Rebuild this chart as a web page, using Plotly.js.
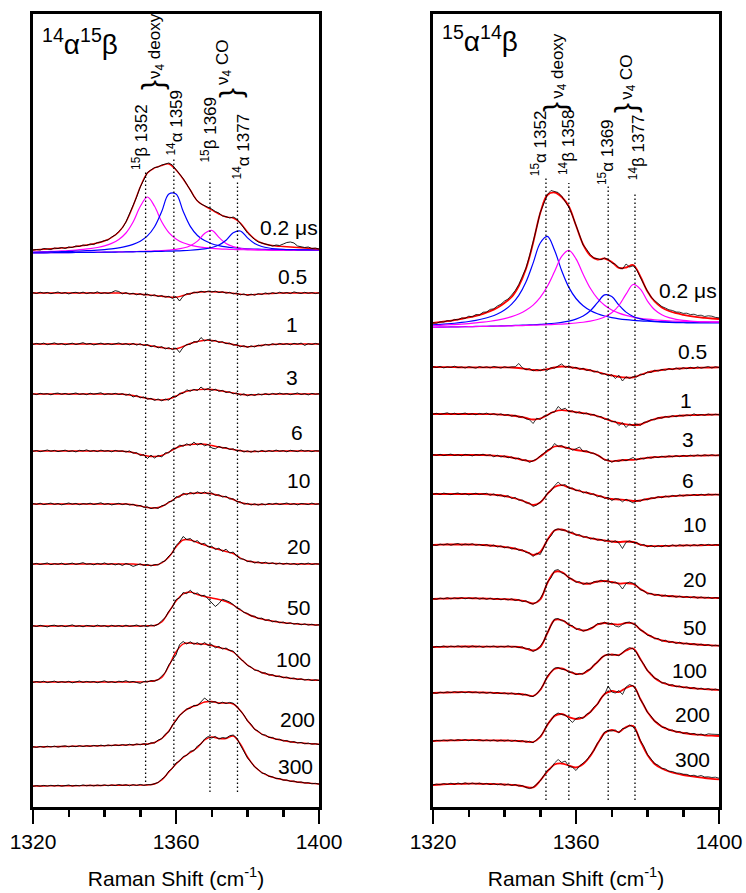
<!DOCTYPE html>
<html><head><meta charset="utf-8">
<script src="https://cdn.plot.ly/plotly-3.0.1.min.js"></script>
<style>html,body{margin:0;padding:0;background:#fff}#chart{width:746px;height:893px}</style>
</head><body><div id="chart"></div><script>
// ---------- sampling grids (Raman shift, cm^-1) ----------
const xFine = [1320,1321,1322,1323,1324,1325,1326,1327,1328,1329,1330,1331,1332,1333,1334,1335,1336,1337,1338,1339,1340,1341,1342,1343,1344,1345,1346,1347,1348,1349,1350,1351,1352,1353,1354,1355,1356,1357,1358,1359,1360,1361,1362,1363,1364,1365,1366,1367,1368,1369,1370,1371,1372,1373,1374,1375,1376,1377,1378,1379,1380,1381,1382,1383,1384,1385,1386,1387,1388,1389,1390,1391,1392,1393,1394,1395,1396,1397,1398,1399,1400];
const xCoarse = [1320,1322,1324,1326,1328,1330,1332,1334,1336,1338,1340,1342,1344,1346,1348,1350,1352,1354,1356,1358,1360,1362,1364,1366,1368,1370,1372,1374,1376,1378,1380,1382,1384,1386,1388,1390,1392,1394,1396,1398,1400];
const tickVals = [1320,1360,1400];
const tickLabels = ['1320','1360','1400'];
const minorTickVals = [1330,1340,1350,1370,1380,1390];
const delayLabels = ['0.2 μs','0.5','1','3','6','10','20','50','100','200','300'];
const leftPeaks = [1351.5,1359.4,1369.5,1377.2];
const rightPeaks = [1351.6,1358.0,1369.0,1376.5];

// ---------- left panel 14α15β : raw spectra (1 cm^-1) ----------
const l02Raw = [0,0.5,0,1.5,1,0.5,2,1.5,2.5,1.5,3,2.5,4,3.5,5,4.5,6,5.5,7.5,8,9.5,10,13,15,18.5,22,28,36,44.5,53,63,71,77.5,80,82.5,83,85,86,87,85,81,76,71.5,66,60,53.5,49,46,44.5,43,41,38.5,37,34,33.5,32,33,31,27,22,17,13.5,10.5,8,7,5.5,5,4,5,4.5,6,7.5,8,7,4,3.5,2.5,3,1.5,2,1];
const l05Raw = [0.3,-0.5,0.8,-0.2,0.6,-0.7,0.2,1.0,-0.4,0.5,-0.9,0.3,0.7,-0.3,0.9,-0.6,0.4,-0.2,1.2,-0.5,0.3,-0.4,0.6,2.3,1.5,-0.8,0.4,-1.2,-0.2,-1.8,-0.6,-2.2,-1.1,-2.9,-1.8,-3.6,-2.5,-4.2,-3.3,-5.5,-3.5,-8,-3.2,-0.6,-1.2,0.9,0.2,1.8,0.7,2.0,1.0,1.9,0.4,1.3,-0.2,0.7,-0.9,0,-1.9,-0.9,-2.5,-1.1,-2.2,-0.6,-1.5,0.1,-1.0,0.4,-0.7,0.8,-0.3,0.5,-0.6,1.1,0.2,-0.5,0.7,-0.3,0.4,-0.6,0.2];
const l1Raw = [-0.4,0.6,-0.2,0.9,-0.7,0.3,1.1,-0.3,0.5,-0.8,0.2,0.8,-0.5,0.4,1.3,-0.2,0.6,-0.9,0.3,0.9,-0.4,0.5,-0.6,0.2,1.0,-0.5,0.4,-0.9,0.6,-1.1,0.3,-1.6,-0.5,-2.8,-1.6,-3.9,-2.6,-4.9,-3.7,-5.6,-4.0,-8.5,-3.3,-0.4,-0.3,2.4,1.8,6.5,3.0,4.6,2.8,3.7,1.5,2.4,0.3,1.0,-1.2,-0.5,-2.8,-1.7,-3.4,-1.8,-3.0,-1.1,-2.0,-0.3,-1.3,0.3,-0.9,0.6,-0.5,0.4,-0.8,0.7,-0.2,0.9,-1.4,0.3,-0.5,0.6,-0.3];
const l3Raw = [0.2,-0.6,0.7,-0.1,0.4,-0.8,0.5,0.9,-0.3,0.6,-0.5,0.2,1.0,-0.4,0.3,-0.7,0.8,-0.2,0.5,1.2,-0.6,0.3,-0.3,0.7,-0.5,0.4,-1.2,-0.1,-3.0,-1.4,-3.8,-3.0,-5.2,-4.3,-6.4,-5.0,-6.8,-5.1,-6.2,-2.6,-3.0,0.8,0.6,4.2,2.8,4.6,3.5,7.0,4.0,5.5,3.6,4.8,2.7,3.6,1.5,2.3,0.2,1.0,-1.2,0.2,-1.8,-0.3,-1.5,0.2,-1.0,0.5,-0.8,0.6,-0.4,0.9,-0.2,0.5,-0.7,0.3,1.0,-0.5,0.4,-0.9,0.6,-0.2,0.3];
const l6Raw = [-0.3,0.5,-0.7,0.4,1.0,-0.2,0.6,-0.6,0.3,0.8,-0.5,0.2,-0.9,0.7,0.1,1.1,-0.4,0.5,-0.6,0.9,-0.2,0.4,-0.8,0.6,-0.3,0.2,-1.0,0.1,-2.2,-1.6,-4.5,-3.6,-7.5,-4.2,-7.0,-4.4,-6.0,-1.8,-1.9,2.2,2.4,6.0,4.8,7.2,5.5,8.8,6.0,7.8,5.2,6.6,3.0,2.2,4.6,3.0,3.5,1.5,2.2,0.2,0.9,-1.0,0.2,-1.2,0.3,-0.9,0.6,-0.7,0.5,-0.5,0.9,-0.3,0.4,-0.8,0.7,0.1,-0.6,1.0,-0.2,0.5,-0.7,0.3,0];
const l10Raw = [0.4,-0.3,0.8,-0.6,0.2,0.9,-0.4,0.5,-0.8,0.3,1.0,-0.2,0.6,-0.7,0.4,-0.1,0.8,-0.5,0.3,1.2,-0.4,0.5,-0.9,0.2,0.7,-0.6,0.3,-1.0,-0.2,-2.0,-1.4,-3.4,-2.9,-4.6,-3.6,-4.4,-1.8,-1.0,2.3,3.0,7.2,6.8,10.8,9.2,11.6,10.0,12.2,10.3,12.0,10.0,11.3,8.6,9.3,7.0,7.8,5.0,5.2,2.3,2.2,-0.2,0.7,-1.0,0.2,-1.2,0.3,-0.9,0.6,-0.4,0.8,-0.6,0.2,1.0,-0.5,0.4,-0.9,0.5,0.1,-0.6,0.9,-0.3,0.2];
const l20Raw = [-0.2,0.6,-0.5,0.3,1.0,-0.7,0.4,-0.3,0.8,-0.6,0.2,0.9,-0.4,0.5,1.3,-0.2,0.3,-0.8,0.6,-0.3,1.1,-0.5,0.4,-0.9,0.2,-1.5,0.5,-0.6,-2.4,-1.2,0.2,-1.5,-0.4,-2.0,-0.5,-1.0,1.8,3.2,8.0,11.0,18.5,22.0,27.5,24.5,25.5,22.0,23.4,19.5,20.8,17.0,17.8,14.5,15.8,12.6,14.8,11.0,12.0,8.0,5.2,4.8,2.4,3.0,1.0,2.2,0.6,1.8,0.2,1.3,-0.2,1.0,-0.3,0.8,-0.4,0.5,-0.8,0.6,-0.2,0.9,-0.5,0.3,-0.1];
const l50Raw = [0.3,-0.5,0.7,-0.2,-0.9,0.4,0.8,-0.3,0.5,-0.7,0.2,1.1,-0.4,0.3,-0.8,0.6,0.1,-0.6,0.9,-0.2,0.4,-0.9,0.7,-0.3,0.5,-0.6,0.8,-0.4,0.2,1.0,-0.5,0.4,-0.6,1.0,0.1,1.8,5.2,8.5,14.8,19.0,26.4,28.0,33.5,32.4,35.8,32.0,33.0,30.0,30.8,27.0,24.0,19.5,22.5,26.8,25.5,24.0,21.5,18.0,16.8,13.5,12.6,10.0,9.8,7.4,7.9,5.6,6.3,4.2,5.0,3.2,4.0,2.4,3.3,1.8,2.6,1.2,2.2,0.9,1.8,0.7,1.3];
const l100Raw = [-0.4,0.5,-0.2,0.8,-0.6,0.3,0.9,-0.5,0.4,-0.3,0.7,-0.8,0.2,1.0,-0.4,0.6,-0.1,0.5,-0.7,0.3,1.2,-0.3,0.4,-0.6,0.8,0.2,1.3,-0.2,0.6,-0.5,-1.4,0.5,0.1,1.4,0.8,2.4,5.6,9.5,17.2,22.0,27.0,37.5,40.5,38.0,40.2,37.8,39.3,37.0,39.5,36.5,37.5,34.2,35.6,33.0,34.0,31.5,31.0,27.0,23.0,20.5,16.4,15.0,11.8,11.6,9.0,9.2,6.8,7.4,5.4,6.0,4.2,5.0,3.3,4.0,2.4,3.2,1.9,2.7,1.5,2.3,1.5];
const l200Raw = [0.3,-0.4,0.6,-0.3,0.8,0,0.9,-0.2,0.7,1.2,0.1,1.0,0.3,1.4,0.5,1.3,0.6,1.6,0.8,1.9,1.0,2.0,1.2,2.2,1.4,2.5,1.6,2.8,1.8,3.1,2.2,3.4,2.5,4.2,4.0,7.0,8.2,12.8,15.2,22.0,26.0,31.8,34.5,38.0,38.8,41.6,41.5,45.5,49.0,46.0,44.8,45.4,43.2,44.8,43.5,44.6,43.8,40.5,35.8,32.0,25.8,22.8,17.5,16.0,12.4,12.0,9.5,9.6,7.5,7.8,6.0,6.5,4.8,5.4,4.0,4.6,3.2,3.9,2.8,3.3,2.5];
const l300Raw = [-0.3,0.4,-0.2,0.6,-0.1,0.7,0,0.8,-0.2,0.6,1.0,-0.1,0.7,0.1,1.1,0.2,0.9,0.1,1.0,0.3,1.2,0.2,1.1,0.4,1.5,0.6,1.3,0.2,1.4,0.5,1.6,0.6,1.4,1.2,2.6,3.5,6.8,9.5,15.0,17.5,23.0,24.8,29.5,30.5,34.8,35.2,40.0,42.0,47.0,49.5,48.0,49.6,47.0,48.5,47.8,50.2,51.0,48.0,41.0,34.0,28.0,23.8,19.0,16.5,13.0,12.2,9.6,9.2,7.4,7.5,5.8,6.0,4.6,5.0,3.6,4.1,2.9,3.3,2.2,2.7,1.9];

// ---------- left panel : fits (2 cm^-1) ----------
const l02Fit = [0,0.5,1,1.5,2,2.5,3.5,4.5,5.5,7,9,12.5,18,28,44,63,77,82,84.5,86,80,71,60,49,44,40,36,33,32,27,18,11,7,5,4,3.5,3,2.5,2,1.5,1];
const l05Fit = [0,0,0,0,0,0,0,0,0,0,0,0,0,-0.3,-0.8,-1.2,-1.8,-2.5,-3.2,-4,-4.2,-2.5,-0.5,0.8,1.3,1.3,1,0.5,-0.3,-1.2,-1.8,-1.5,-1,-0.5,-0.2,0,0,0,0,0,0];
const l1Fit = [0,0,0,0,0,0,0,0,0,0,0,0,0,0,0,-0.5,-1.2,-2.5,-3.5,-4.5,-4.8,-2.5,0.5,2.5,3.8,3.5,2.3,1,-0.5,-2,-2.8,-2.3,-1.3,-0.6,-0.2,0,0,0,0,0,0];
const l3Fit = [0,0,0,0,0,0,0,0,0,0,0,0,0,-0.5,-1.5,-3,-4.5,-5.5,-6,-5,-2,1.5,3.5,4.3,4.8,4.5,3.5,2.3,1,-0.3,-1,-0.8,-0.4,-0.2,0,0,0,0,0,0,0];
const l6Fit = [0,0,0,0,0,0,0,0,0,0,0,0,0,-0.5,-1.5,-3.5,-5,-5.5,-4.5,-1,3,5.5,6.5,7,6.8,5.5,4,2.8,1.5,0.2,-0.5,-0.5,-0.3,-0.1,0,0,0,0,0,0,0];
const l10Fit = [0,0,0,0,0,0,0,0,0,0,0,0,0,0,-0.8,-2,-3.5,-4,-2.5,1.5,6,9.5,10.5,11,11,10.3,8.5,6.8,4.5,1.5,0,-0.5,-0.5,-0.2,0,0,0,0,0,0,0];
const l20Fit = [0,0,0,0,0,0,0,0,0,0,0,0,0,0,0,-0.5,-1.2,-1.2,1,7,17,24,24,21.5,19,16.5,14.5,12.5,10.5,6,3,1.8,1.2,0.8,0.5,0.3,0.1,0,0,0,0];
const l50Fit = [0,0,0,0,0,0,0,0,0,0,0,0,0,0,0,0,0.2,0.5,4,14,25,32,34,31.5,29.5,28,26.5,24.5,21,16,12,9,7,5.5,4.3,3.3,2.6,2,1.6,1.3,1];
const l100Fit = [0,0,0,0,0,0,0,0,0,0,0,0,0,0,0,0,0.5,1.2,4.5,16,30,38,39,38,38,36.5,34.5,33,30,23.5,17,12.5,9.5,7.5,6,4.8,3.8,3,2.4,2,1.7];
const l200Fit = [0,0.1,0.3,0.4,0.5,0.6,0.8,0.9,1,1.2,1.4,1.6,1.8,2,2.3,2.6,3,4.5,8.5,16,27,35,39.5,42,45,45.5,44,44,43,36.5,26.5,18,13,10,8,6.5,5.3,4.4,3.7,3.2,2.7];
const l300Fit = [0,0,0.1,0.2,0.2,0.3,0.3,0.4,0.5,0.5,0.6,0.7,0.8,0.8,0.9,0.9,1,2,6,14,22,28.5,33.5,38.5,46,49,47.5,47.5,50,42,29,19.5,13.5,10,7.8,6.2,5,4,3.2,2.6,2];

// ---------- left panel : band components of the 0.2 μs spectrum ----------
const l15b1352 = [-1.98,-1.78,-1.55,-1.28,-0.96,-0.57,-0.1,0.54,1.37,2.51,4.1,6.6,10.55,17.0,28.0,43.5,53.0,43.7,28.2,17.4,11.05,7.2,4.9,3.4,2.37,1.66,1.16,0.81,0.54,0.34,0.2,0.1,0.02,-0.04,-0.08,-0.09,-0.09,-0.09,-0.08,-0.06,-0.04];
const l14a1359 = [-2.3,-2.16,-2.0,-1.84,-1.65,-1.44,-1.19,-0.88,-0.53,-0.09,0.47,1.19,2.19,3.58,5.64,8.84,14.1,23.3,38.5,55.9,55.95,38.7,23.6,14.5,9.4,6.3,4.4,3.1,2.25,1.65,1.2,0.91,0.68,0.5,0.38,0.29,0.22,0.18,0.16,0.14,0.13];
const l15b1369 = [-2.9,-2.83,-2.76,-2.68,-2.61,-2.53,-2.45,-2.37,-2.28,-2.19,-2.1,-1.99,-1.87,-1.75,-1.6,-1.43,-1.22,-0.95,-0.6,-0.08,0.69,1.97,4.3,8.84,16.5,19.6,12.6,6.5,3.35,1.78,0.92,0.42,0.12,-0.06,-0.18,-0.24,-0.27,-0.28,-0.28,-0.26,-0.24];
const l14a1377 = [-2.92,-2.85,-2.79,-2.71,-2.64,-2.57,-2.5,-2.42,-2.35,-2.27,-2.19,-2.1,-2.02,-1.93,-1.83,-1.72,-1.6,-1.47,-1.32,-1.13,-0.92,-0.65,-0.27,0.28,1.1,2.49,5.0,9.8,17.2,19.0,12.1,6.44,3.5,1.98,1.16,0.67,0.38,0.19,0.085,0.02,-0.01];

// ---------- right panel 15α14β : raw spectra (1 cm^-1) ----------
const r02Raw = [0.2,-0.3,1.2,0.9,2.4,1.8,3.6,3.2,5.1,4.6,6.8,6.2,8.5,8.0,10.8,11.0,13.6,14.2,17.0,18.8,22.0,24.0,28.0,32.5,38.5,46.0,55.0,67.0,80.5,95.5,110.5,120.0,128.5,132.5,131.5,130.5,126.8,121.5,116.0,107.5,97.0,88.5,78.0,73.5,68.5,64.8,64.5,63.2,65.0,63.5,60.2,58.8,55.5,54.0,59.0,56.0,57.2,53.0,45.0,38.5,31.8,26.0,22.5,19.0,16.5,15.0,13.2,12.5,11.0,10.8,9.6,9.8,8.4,8.8,7.5,7.8,6.5,7.2,6.8,5.6,5.2];
const r05Raw = [0.3,-0.5,0.6,-0.9,0.2,-0.4,0.8,-0.6,0.1,-1.0,0.4,-0.3,-1.2,0.5,-0.6,0.2,-0.9,0.6,-0.4,-1.1,0.3,-0.7,0.1,0.2,3.5,-0.8,-2.8,-1.6,-3.9,-2.5,-3.8,-2.0,-3.4,-0.6,-1.2,1.0,3.2,-0.5,1.2,-1.2,-0.2,-2.4,-1.2,-3.5,-2.6,-5.0,-4.2,-7.0,-6.5,-9.0,-7.6,-11.5,-8.2,-14.0,-9.8,-11.5,-9.5,-10.0,-7.2,-7.6,-4.8,-5.5,-3.2,-4.0,-2.4,-3.3,-1.5,-2.6,-1.0,-2.2,-0.6,-1.8,-0.3,-1.5,0.2,-1.2,-0.1,0.5,-1.0,0.3,-0.5];
const r1Raw = [-0.2,0.7,-0.4,0.5,1.2,-0.3,0.8,-0.6,0.4,1.0,-0.5,0.3,-0.8,0.6,-0.2,0.9,-0.7,0.4,-1.0,0.2,-1.4,-0.5,-2.2,-1.2,-3.2,-2.6,-4.8,-5.8,-9.5,-4.2,-5.5,-2.0,-1.6,1.5,1.8,7.5,4.4,5.8,2.2,3.2,1.0,2.2,0.1,1.0,-1.0,-0.4,-2.8,-2.5,-5.4,-5.0,-7.8,-7.2,-11.5,-8.6,-13.5,-9.8,-11.8,-10.0,-11.3,-8.2,-8.0,-5.6,-5.8,-3.6,-4.2,-2.4,-3.3,-1.6,-2.8,-1.2,-2.0,-0.8,-1.8,0.2,-1.4,-0.5,-1.3,0,-1.1,-0.2,-0.8];
const r3Raw = [0.4,-0.3,0.7,-0.6,0.2,0.9,-0.5,0.3,-0.8,0.6,0.1,-0.9,0.5,-0.2,0.8,-0.6,0.3,-1.8,-0.2,-2.0,-0.9,-2.8,-2.0,-3.9,-3.2,-5.5,-4.8,-7.5,-5.6,-4.2,-0.8,1.5,5.0,6.2,11.5,8.6,9.5,6.8,7.6,4.8,6.2,8.0,3.4,4.2,2.0,1.8,-0.5,-2.0,-5.2,-5.0,-7.2,-5.5,-6.4,-4.6,-5.8,-4.0,-2.5,-5.0,-3.2,-4.0,-2.2,-3.2,-1.6,-2.6,-1.2,-2.2,-0.9,-1.8,-0.6,-1.7,-0.4,-1.4,-0.1,-1.2,0.1,-0.9,0.2,-0.8,0.3,-0.6,0.1];
const r6Raw = [-0.3,0.6,-0.5,0.9,0.2,-0.7,0.4,1.0,-0.4,0.5,-0.9,0.3,0.8,-0.6,0.2,0.7,-1.2,0.1,-1.8,-0.8,-2.9,-1.6,-4.6,-3.4,-6.2,-6.0,-9.0,-9.0,-12.5,-11.0,-8.0,-5.0,0.8,3.0,8.2,12.0,8.5,9.5,5.5,6.0,3.2,4.0,1.0,2.0,-0.5,0.2,-2.8,-1.8,-4.5,-3.2,-6.6,-4.5,-5.0,-7.8,-5.2,-6.8,-9.0,-6.5,-7.2,-5.0,-5.8,-3.8,-4.4,-2.6,-3.8,-2.0,-3.0,-1.4,-2.4,-0.9,-2.0,-0.8,-1.6,-0.4,-1.5,-0.2,-1.3,0,-1.0,-0.3,-0.9];
const r10Raw = [0.2,-0.5,0.9,0.1,1.2,-0.2,0.8,1.5,-0.1,1.0,0.2,1.3,-0.3,0.6,-0.6,0.5,-1.2,0.0,-2.0,-0.9,-2.8,-1.9,-4.0,-3.0,-5.4,-4.8,-7.5,-8.0,-11.5,-8.2,-9.5,-2.0,5.5,9.0,15.0,16.2,14.8,15.0,12.0,13.0,9.6,10.5,7.6,8.5,6.0,7.0,4.8,5.6,3.8,5.0,2.8,4.2,2.0,-3.5,2.8,4.2,2.4,2.6,-0.4,0.6,-1.8,-0.4,-2.0,-0.5,-1.8,-0.2,-1.5,0.1,-1.2,0.3,-0.9,0.2,-1.0,0.4,-0.7,0.6,-0.5,0.7,-0.4,0.5,-0.2];
const r20Raw = [0.4,-0.3,0.9,0.2,1.3,0.1,1.2,0.3,1.4,0.2,1.1,0.4,1.3,-0.2,0.9,-0.4,0.8,-0.5,0.6,-0.8,0.3,-1.0,0.2,-1.5,-0.6,-2.6,-1.8,-4.0,-5.2,-3.0,0.5,7.0,17.0,21.0,28.5,29.5,26.0,24.8,21.0,19.8,16.6,17.5,14.6,16.2,15.0,17.4,17.0,19.0,17.2,18.4,16.0,17.0,14.8,10.0,15.5,17.0,15.8,13.5,9.0,8.2,5.0,5.8,3.6,4.6,2.8,4.0,2.2,3.3,1.8,2.9,1.5,2.6,1.2,2.5,0.9,2.1,0.8,1.8,0.6,1.5,0.8];
const r50Raw = [-0.3,0.6,0.1,1.0,-0.2,0.9,0.2,1.2,0,0.8,-0.3,1.1,0.1,0.9,-0.4,0.8,0.2,1.0,-0.3,0.7,0,1.2,-0.2,0.6,-0.7,0.2,-2.2,-1.6,-4.5,-2.8,0.8,6.0,14.5,21.0,28.0,28.5,26.2,25.8,21.6,21.5,17.5,18.5,15.8,17.0,19.0,20.0,23.6,23.0,24.8,22.8,23.8,21.0,20.0,22.5,24.5,25.0,22.8,21.5,16.8,15.5,11.6,11.2,8.2,8.6,5.8,6.8,4.5,5.5,3.5,4.8,3.0,4.0,2.4,3.4,1.9,2.9,1.5,2.4,1.0,1.9,1.0];
const r100Raw = [0.3,-0.4,0.8,0.2,1.1,0.3,1.4,0.5,1.2,0.2,1.3,0.4,1.1,-0.1,0.8,-0.3,0.7,-0.5,0.5,-0.7,0.2,-1.1,0.1,-1.4,-0.3,-2.0,-1.2,-3.0,-3.6,-1.0,3.5,9.0,17.0,20.5,25.0,25.5,23.8,23.5,20.6,21.0,18.2,19.6,18.8,22.6,23.5,28.4,30.5,35.2,37.0,39.2,37.8,38.6,37.2,40.6,43.5,45.5,44.0,40.0,33.5,28.6,22.0,19.5,14.6,13.5,10.0,10.2,7.6,8.4,6.2,7.0,5.2,6.2,4.4,5.5,3.8,4.9,3.4,4.5,3.0,4.0,2.8];
const r200Raw = [-0.2,0.6,0.2,1.0,0.3,1.2,0.4,1.3,0.5,1.4,0.3,1.2,0.4,1.3,0.2,1.1,0.1,1.0,-0.1,0.9,0,1.0,-0.4,0.8,-0.6,0.4,-1.2,-0.2,-1.8,1.0,4.5,9.5,17.0,20.5,26.0,28.0,26.5,26.0,22.5,18.5,22.5,23.8,22.6,27.0,28.4,34.0,36.5,43.0,46.5,55.0,49.0,48.0,50.5,46.5,54.0,56.5,55.0,50.0,41.5,36.0,28.4,25.0,19.6,17.8,13.8,13.5,10.6,11.0,8.8,9.5,7.5,8.4,6.8,7.6,6.0,7.0,5.8,7.2,6.8,7.0,6.5];
const r300Raw = [0.2,0.9,0.3,1.5,0.6,1.8,0.7,2.0,1.0,2.2,0.9,2.0,1.0,1.9,0.7,1.6,0.4,1.5,0.2,1.3,-0.2,1.0,-0.5,0.5,-1.0,-0.5,-2.5,-3.6,-2.2,0.5,4.0,9.5,14.5,16.5,22.0,25.5,22.5,24.0,18.5,17.8,14.5,19.0,21.8,25.0,30.0,34.5,42.0,46.0,53.0,54.5,54.0,55.0,52.0,56.5,57.0,60.0,58.0,53.0,44.5,38.5,30.5,26.5,21.5,19.8,16.8,16.0,13.8,13.5,12.0,11.8,10.8,10.6,9.2,9.8,8.6,9.5,8.0,8.2,7.5,7.8,6.8];

// ---------- right panel : fits (2 cm^-1) ----------
const r02Fit = [0,0.8,1.8,2.9,4.2,5.6,7.2,9.2,11.8,15.2,20,26,37,54,80,110,128,130.5,126,116.5,97.5,78.5,67.5,63.5,64.5,61,55,55.5,58,46.5,31.5,21.5,15.5,12,9.8,8.2,6.8,5.8,5.1,4.5,4];
const r05Fit = [0,-0.1,-0.2,-0.2,-0.3,-0.3,-0.3,-0.3,-0.3,-0.4,-0.4,-0.5,-1,-2,-3,-3.2,-2.2,-0.5,0.5,0,-1,-2,-3.3,-5,-7,-8.5,-9.8,-10.5,-10.3,-8,-5.5,-4,-3,-2.2,-1.7,-1.3,-1,-0.8,-0.6,-0.5,-0.4];
const r1Fit = [0,0,0,0,0,0,0,-0.1,-0.2,-0.3,-0.8,-1.5,-2.5,-4,-5.5,-4.5,-1,2.5,3.8,3,1.8,0.8,-0.3,-2,-4.5,-7,-9,-10.3,-11,-10.5,-7.5,-5,-3.5,-2.6,-2,-1.5,-1.2,-1,-0.8,-0.7,-0.6];
const r3Fit = [0,0,0,0,0,0,0,0,-0.3,-0.8,-1.5,-2.5,-4,-5.5,-6,-1.5,4,8.5,8.5,6.5,5,4,2.5,0,-4.5,-6.3,-5.5,-5,-4.8,-3.8,-2.8,-2.2,-1.8,-1.5,-1.2,-1,-0.8,-0.6,-0.5,-0.4,-0.3];
const r6Fit = [0,0,0,0,0,0,0,0,-0.5,-1,-2,-3.5,-5.5,-8,-11,-8.5,0,7,8.8,6.5,4,2,0.5,-1.5,-3.5,-5,-5.5,-6,-7,-6.5,-5,-3.8,-3,-2.3,-1.8,-1.5,-1.2,-1,-0.8,-0.7,-0.6];
const r10Fit = [0,0.3,0.5,0.5,0.5,0.5,0.3,0,-0.5,-1.2,-2,-3,-4.5,-6.5,-10,-7,5,14.5,15.5,13,10.5,8.5,6.8,5.5,4.5,3.5,3,3.5,3,0.5,-1,-1.2,-1,-0.8,-0.6,-0.5,-0.4,-0.3,-0.2,-0.1,0];
const r20Fit = [0,0.3,0.5,0.7,0.8,0.8,0.7,0.5,0.3,0,-0.2,-0.5,-1.2,-2.3,-4.5,-0.5,16,27,27,21.5,17.5,15.5,15.5,17.5,18,17,15.5,15.8,15,10,6,4.3,3.5,3,2.5,2.1,1.8,1.5,1.3,1.1,1];
const r50Fit = [0,0.2,0.3,0.4,0.5,0.5,0.5,0.4,0.4,0.3,0.3,0.3,0,-1.5,-3.5,0,14,27,27,22.5,18.5,16.5,18,22.5,24,23,22.5,24,23.5,17.5,12.5,9,6.7,5.3,4.3,3.6,3,2.5,2,1.6,1.3];
const r100Fit = [0,0.3,0.5,0.7,0.8,0.8,0.7,0.5,0.3,0,-0.3,-0.6,-1,-1.8,-3,3,16,24,24.5,21.5,19,19.5,24,31,37.5,38.5,38,42.5,44.5,34,22.5,15,10.5,8.2,6.8,5.8,5,4.4,3.9,3.5,3.2];
const r200Fit = [0,0.3,0.5,0.7,0.8,0.8,0.8,0.7,0.6,0.5,0.5,0.3,0,-0.5,-1,4,16,25,27,24,22,23.5,29,37,47,50,49,53,55,42,29,20,14.5,11.3,9.3,8,7,6.3,5.7,5.3,5];
const r300Fit = [0,0.5,0.8,1,1.2,1.3,1.3,1.2,1,0.8,0.5,0.2,-0.5,-2,-2.5,4.5,13.5,20.5,21.5,19.5,17.5,21,29,41,52,55,53,58,59,44,30,21,16.5,13.5,11.5,10,8.8,7.8,7,6.2,5.6];

// ---------- right panel : band components of the 0.2 μs spectrum ----------
const r15a1352 = [-1.85,-1.4,-0.86,-0.23,0.54,1.48,2.67,4.21,6.25,9.06,13.0,18.8,27.6,41.0,59.9,80.0,86.6,72.8,52.2,35.6,24.5,17.3,12.5,9.26,7.0,5.38,4.2,3.32,2.65,2.14,1.75,1.45,1.22,1.04,0.91,0.81,0.74,0.69,0.66,0.65,0.65];
const r14b1358 = [-2.59,-2.28,-1.92,-1.53,-1.07,-0.54,0.09,0.84,1.77,2.93,4.42,6.37,9.0,12.7,17.9,25.6,36.7,51.4,66.6,72.6,64.1,48.7,34.7,24.6,17.7,13.06,9.83,7.55,5.91,4.69,3.79,3.1,2.57,2.17,1.85,1.61,1.42,1.28,1.17,1.1,1.04];
const r15a1369 = [-4.25,-4.13,-4.0,-3.87,-3.74,-3.6,-3.46,-3.31,-3.15,-2.98,-2.79,-2.58,-2.35,-2.08,-1.76,-1.37,-0.89,-0.25,0.62,1.89,3.81,6.94,12.2,20.3,28.1,26.5,17.9,10.85,6.56,4.07,2.58,1.66,1.07,0.68,0.43,0.27,0.17,0.11,0.08,0.08,0.1];
const r14b1377 = [-4.28,-4.16,-4.04,-3.92,-3.8,-3.67,-3.54,-3.41,-3.27,-3.12,-2.97,-2.8,-2.63,-2.44,-2.23,-2.0,-1.73,-1.42,-1.05,-0.59,0,0.78,1.88,3.49,6.02,10.2,17.5,28.8,38.5,33.9,21.9,13.2,8.2,5.32,3.6,2.53,1.84,1.39,1.08,0.88,0.75];

// ---------- stacking (vertical offsets of each spectrum) ----------
const leftOffsets  = [557,514,463,413,356,303,243,181,125,60,21];
const rightOffsets = [484,440,393,352,313,262,208,160,114,66,22];

const leftRaw  = [l02Raw,l05Raw,l1Raw,l3Raw,l6Raw,l10Raw,l20Raw,l50Raw,l100Raw,l200Raw,l300Raw];
const leftFit  = [l02Fit,l05Fit,l1Fit,l3Fit,l6Fit,l10Fit,l20Fit,l50Fit,l100Fit,l200Fit,l300Fit];
const rightRaw = [r02Raw,r05Raw,r1Raw,r3Raw,r6Raw,r10Raw,r20Raw,r50Raw,r100Raw,r200Raw,r300Raw];
const rightFit = [r02Fit,r05Fit,r1Fit,r3Fit,r6Fit,r10Fit,r20Fit,r50Fit,r100Fit,r200Fit,r300Fit];
const leftComps  = [[l15b1352,'#ff00ff'],[l14a1359,'#0000ff'],[l15b1369,'#ff00ff'],[l14a1377,'#0000ff']];
const rightComps = [[r15a1352,'#0000ff'],[r14b1358,'#ff00ff'],[r15a1369,'#0000ff'],[r14b1377,'#ff00ff']];

// ---------- build traces ----------
const W = 746, H = 893;
const FONT = 'Arial, "Liberation Sans", Helvetica, sans-serif';
const traces = [];
function shift(arr, off){ return arr.map(v => v + off); }

leftComps.forEach(c => traces.push({x:xCoarse, y:shift(c[0], leftOffsets[0]), xaxis:'x', yaxis:'y', mode:'lines', line:{color:c[1], width:1.2, shape:'spline', smoothing:1}, hoverinfo:'skip'}));
rightComps.forEach(c => traces.push({x:xCoarse, y:shift(c[0], rightOffsets[0]), xaxis:'x2', yaxis:'y2', mode:'lines', line:{color:c[1], width:1.2, shape:'spline', smoothing:1}, hoverinfo:'skip'}));

for (let i = 0; i < leftRaw.length; i++) {
  traces.push({x:xCoarse, y:shift(leftFit[i], leftOffsets[i]), xaxis:'x', yaxis:'y', mode:'lines', line:{color:'#ff0000', width:1.4, shape:'spline', smoothing:1}, hoverinfo:'skip'});
  traces.push({x:xFine, y:shift(leftRaw[i], leftOffsets[i]), xaxis:'x', yaxis:'y', mode:'lines', line:{color:'#000000', width:0.9}, hoverinfo:'skip'});
}
for (let i = 0; i < rightRaw.length; i++) {
  traces.push({x:xCoarse, y:shift(rightFit[i], rightOffsets[i]), xaxis:'x2', yaxis:'y2', mode:'lines', line:{color:'#ff0000', width:1.8, shape:'spline', smoothing:1}, hoverinfo:'skip'});
  traces.push({x:xFine, y:shift(rightRaw[i], rightOffsets[i]), xaxis:'x2', yaxis:'y2', mode:'lines', line:{color:'#000000', width:0.8}, hoverinfo:'skip'});
}

// ---------- axes ----------
function xAxis(domain, anchor){
  return {
    domain: domain, anchor: anchor, range:[1320,1400], fixedrange:true,
    showline:true, linewidth:2.7, linecolor:'#000', mirror:true,
    showgrid:false, zeroline:false,
    ticks:'outside', ticklen:14, tickwidth:2.5, tickcolor:'#000',
    tickmode:'array', tickvals:tickVals, ticktext:tickLabels,
    tickfont:{family:FONT, size:21, color:'#000'},
    minor:{tickmode:'array', tickvals:minorTickVals, ticks:'outside', ticklen:7, tickwidth:2.5, tickcolor:'#000', showgrid:false},
    title:{text:'Raman Shift (cm<sup>-1</sup>)', font:{family:FONT, size:21, color:'#000'}, standoff:20}
  };
}
function yAxis(anchor){
  return {
    domain:[1-807/H, 1-14/H], anchor: anchor, range:[0,793], fixedrange:true,
    showline:true, linewidth:2.7, linecolor:'#000', mirror:true,
    showgrid:false, zeroline:false, ticks:'', showticklabels:false
  };
}

// ---------- annotations ----------
const ann = [];
function txt(xref, yref, x, y, text, size, angle, xa, ya){
  ann.push({xref:xref, yref:yref, x:x, y:y, text:text, showarrow:false, textangle:angle||0,
            xanchor:xa||'center', yanchor:ya||'middle', font:{family:FONT, size:size, color:'#000'}});
}
// panel titles
txt('paper','paper', 40/W, 1-22/H, '<sup>14</sup>α<sup>15</sup>β', 28, 0, 'left', 'top');
txt('paper','paper', 440/W, 1-19/H, '<sup>15</sup>α<sup>14</sup>β', 28, 0, 'left', 'top');
// band labels, left
txt('x','y', 1349.9, 670, '<sup>15</sup>β 1352', 17, -90);
txt('x','y', 1359.6, 684, '<sup>14</sup>α 1359', 17, -90);
txt('x','y', 1369.1, 677, '<sup>15</sup>β 1369', 17, -90);
txt('x','y', 1378.3, 661, '<sup>14</sup>α 1377', 17, -90);
txt('x','y', 1353.3, 722, '}', 30, -90);
txt('x','y', 1375.1, 714, '}', 30, -90);
txt('x','y', 1354.4, 761, 'ν<sub>4</sub> deoxy', 17, -90);
txt('x','y', 1373.4, 745, 'ν<sub>4</sub> CO', 17, -90);
// band labels, right
txt('x2','y2', 1349.7, 664, '<sup>15</sup>α 1352', 17, -90);
txt('x2','y2', 1357.5, 665, '<sup>14</sup>β 1358', 17, -90);
txt('x2','y2', 1368.4, 655, '<sup>15</sup>α 1369', 17, -90);
txt('x2','y2', 1377.1, 660, '<sup>14</sup>β 1377', 17, -90);
txt('x2','y2', 1353.85, 700, '}', 30, -90);
txt('x2','y2', 1373.7, 699, '}', 30, -90);
txt('x2','y2', 1355.2, 741, 'ν<sub>4</sub> deoxy', 17, -90);
txt('x2','y2', 1374.5, 730, 'ν<sub>4</sub> CO', 17, -90);
// delay labels
const leftLabelPos  = [[289,228],[292,276],[292,324],[292,377],[297,432],[298,481],[298,546],[298,607],[293,659],[297,719],[295,766]];
const rightLabelPos = [[688,290],[692,351],[686,400],[688,440],[688,481],[694,524],[694,579],[694,627],[689,670],[692,714],[692,759]];
delayLabels.forEach((t,i) => {
  txt('paper','paper', leftLabelPos[i][0]/W, 1-leftLabelPos[i][1]/H, t, 21, 0);
  txt('paper','paper', rightLabelPos[i][0]/W, 1-rightLabelPos[i][1]/H, t, 21, 0);
});

// ---------- dotted peak markers ----------
const shapes = [];
const leftSpan  = [[25,635],[42,649],[15,627],[15,627]];
const rightSpan = [[7,630],[7,624],[7,622],[7,615]];
leftPeaks.forEach((p,i) => shapes.push({type:'line', xref:'x', yref:'y', x0:p, x1:p, y0:leftSpan[i][0], y1:leftSpan[i][1], line:{color:'#000', width:1.3, dash:'1.5px,2.5px'}}));
rightPeaks.forEach((p,i) => shapes.push({type:'line', xref:'x2', yref:'y2', x0:p, x1:p, y0:rightSpan[i][0], y1:rightSpan[i][1], line:{color:'#000', width:1.3, dash:'1.5px,2.5px'}}));

const layout = {
  width:W, height:H, margin:{l:0, r:0, t:0, b:0}, autosize:false,
  paper_bgcolor:'#fff', plot_bgcolor:'#fff', showlegend:false,
  font:{family:FONT, color:'#000'},
  xaxis: xAxis([33/W, 319/W], 'y'),
  yaxis: yAxis('x'),
  xaxis2: xAxis([433/W, 719/W], 'y2'),
  yaxis2: yAxis('x2'),
  annotations: ann, shapes: shapes
};
Plotly.newPlot('chart', traces, layout, {staticPlot:true, displayModeBar:false});
</script></body></html>
